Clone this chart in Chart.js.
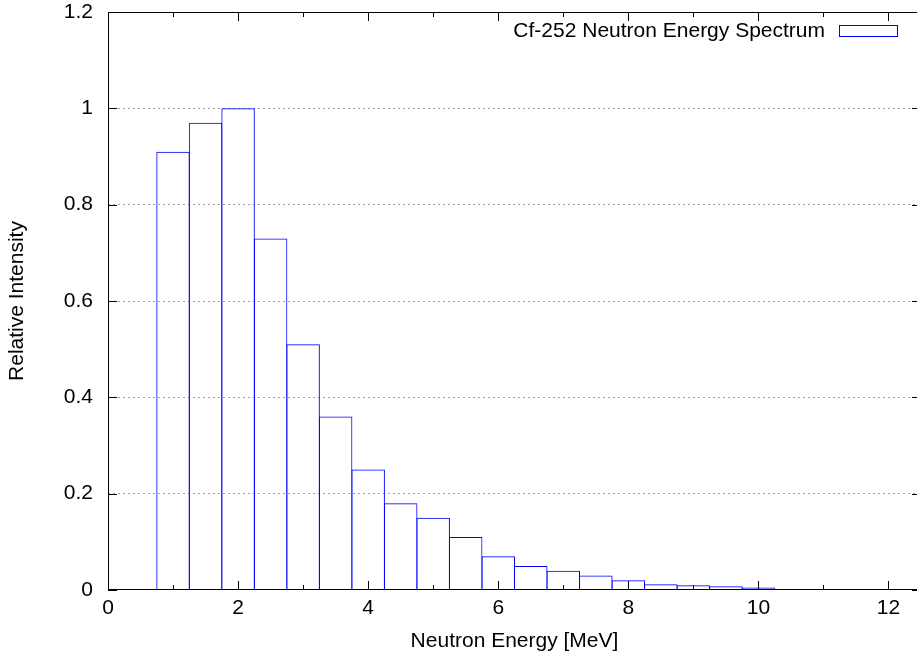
<!DOCTYPE html>
<html>
<head>
<meta charset="utf-8">
<script src="https://cdn.jsdelivr.net/npm/chart.js@4.4.0/dist/chart.umd.min.js"></script>
<style>
  html, body { margin: 0; padding: 0; background: #fff; overflow: hidden; }
  #wrap { width: 917px; height: 657px; overflow: hidden; }
</style>
</head>
<body>
<div id="wrap"><canvas id="myChart" width="925" height="657"></canvas></div>
<script>
// bin centres (MeV), 0.5 MeV wide bins
const energies = [1, 1.5, 2, 2.5, 3, 3.5, 4, 4.5, 5, 5.5, 6, 6.5, 7, 7.5, 8, 8.5, 9, 9.5, 10];
const intensity = [0.91, 0.97, 1.0, 0.73, 0.51, 0.36, 0.25, 0.18, 0.15, 0.11, 0.07, 0.05, 0.04, 0.03, 0.02, 0.012, 0.01, 0.008, 0.005];
const xTicks = [0, 2, 4, 6, 8, 10, 12];
const xMinorTicks = [1, 3, 5, 7, 9, 11];
const yTicks = [0, 0.2, 0.4, 0.6, 0.8, 1, 1.2];
const seriesLabel = 'Cf-252 Neutron Energy Spectrum';

const FONT = "'Liberation Sans', Arial, Helvetica, sans-serif";
const FSIZE = 21;
const BLUE = '#0000ff';

// gnuplot style frame: box border, inward ticks on all sides, key top right
const framePlugin = {
  id: 'frame',
  afterDatasetsDraw(chart) {
    const ctx = chart.ctx;
    const a = chart.chartArea;
    const x = chart.scales.x;
    const y = chart.scales.y;
    ctx.save();
    ctx.strokeStyle = '#000';
    ctx.lineWidth = 1;
    ctx.beginPath();
    xTicks.forEach(function (v) {
      const px = Math.round(x.getPixelForValue(v)) + 0.5;
      ctx.moveTo(px, a.bottom); ctx.lineTo(px, a.bottom - 9);
      ctx.moveTo(px, a.top); ctx.lineTo(px, a.top + 9);
    });
    xMinorTicks.forEach(function (v) {
      const px = Math.round(x.getPixelForValue(v)) + 0.5;
      ctx.moveTo(px, a.bottom); ctx.lineTo(px, a.bottom - 5);
      ctx.moveTo(px, a.top); ctx.lineTo(px, a.top + 5);
    });
    yTicks.forEach(function (v) {
      const py = Math.round(y.getPixelForValue(v)) + 0.5;
      ctx.moveTo(a.left, py); ctx.lineTo(a.left + 9, py);
      ctx.moveTo(a.right, py); ctx.lineTo(a.right - 9, py);
    });
    ctx.stroke();
    ctx.strokeRect(Math.round(a.left) + 0.5, Math.round(a.top) + 0.5,
                   Math.round(a.width) - 1, Math.round(a.height) - 1);

    // key
    ctx.fillStyle = '#000';
    ctx.font = FSIZE + 'px ' + FONT;
    ctx.textAlign = 'right';
    ctx.textBaseline = 'middle';
    ctx.fillText(chart.data.datasets[0].label, 825, 31);
    ctx.strokeStyle = BLUE;
    ctx.strokeRect(839.5, 25.5, 58, 11);
    ctx.restore();
  }
};

const ctx = document.getElementById('myChart').getContext('2d');
const myChart = new Chart(ctx, {
  type: 'bar',
  data: {
    datasets: [{
      label: seriesLabel,
      data: energies.map(function (e, i) { return { x: e, y: intensity[i] }; }),
      backgroundColor: 'rgba(0,0,0,0)',
      borderColor: BLUE,
      borderWidth: { top: 1, left: 1, bottom: 0, right: 1 },
      borderSkipped: false,
      // bars overlap by one pixel so neighbouring edges share a line
      barPercentage: 1.03,
      categoryPercentage: 1
    }]
  },
  options: {
    responsive: false,
    animation: false,
    layout: { padding: { top: 12, right: 4, left: 0, bottom: 0 } },
    plugins: {
      legend: { display: false },
      tooltip: { enabled: false }
    },
    scales: {
      x: {
        type: 'linear',
        min: 0,
        max: 12.5,
        offset: false,
        afterBuildTicks: function (s) { s.ticks = xTicks.map(function (v) { return { value: v }; }); },
        afterFit: function (s) { s.height = 67; s.paddingLeft = 0; s.paddingRight = 0; },
        grid: { display: false, drawTicks: false },
        border: { display: false },
        ticks: { color: '#000', font: { family: FONT, size: FSIZE }, padding: 6, maxRotation: 0 },
        title: {
          display: true,
          text: 'Neutron Energy [MeV]',
          color: '#000',
          font: { family: FONT, size: FSIZE },
          padding: { top: 0, bottom: 3 }
        }
      },
      y: {
        min: 0,
        max: 1.2,
        afterBuildTicks: function (s) { s.ticks = yTicks.map(function (v) { return { value: v }; }); },
        afterFit: function (s) { s.width = 108; s.paddingTop = 0; s.paddingBottom = 0; },
        grid: {
          drawTicks: false,
          lineWidth: 1,
          color: function (c) {
            const v = c.tick ? c.tick.value : 0;
            return (v > 0.01 && v < 1.19) ? '#a0a0a0' : 'rgba(0,0,0,0)';
          }
        },
        border: { display: false, dash: [2, 3] },
        ticks: {
          color: '#000',
          font: { family: FONT, size: FSIZE },
          padding: 15,
          callback: function (v) { return String(+v.toFixed(1)); }
        },
        title: {
          display: true,
          text: 'Relative Intensity',
          color: '#000',
          font: { family: FONT, size: FSIZE },
          padding: { top: 5, bottom: 0 }
        }
      }
    }
  },
  plugins: [framePlugin]
});
</script>
</body>
</html>
